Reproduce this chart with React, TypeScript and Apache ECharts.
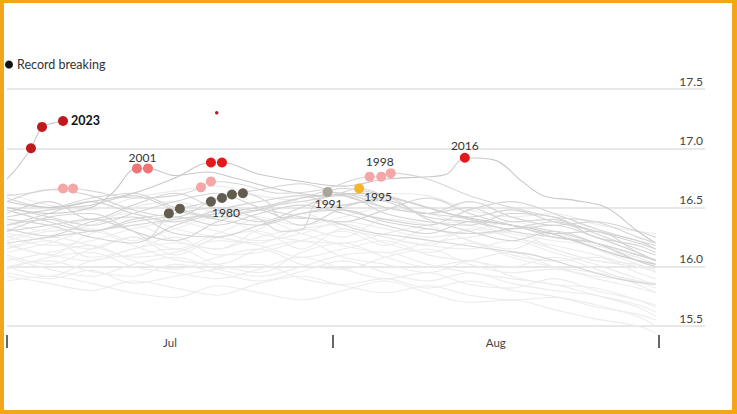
import React, { useEffect, useRef } from "react";
import * as echarts from "echarts";

// x = days since 1 July
const DAYS = [0, 4, 8, 12, 16, 20, 24, 28, 32, 36, 40, 44, 48, 52, 56, 60, 61.7];
const Y_TICKS = [15.5, 16.0, 16.5, 17.0, 17.5];
const MONTH_TICKS = [0, 31, 62];
const MONTH_LABEL_POS = [15.5, 46.5];
const MONTH_LABELS = ["Jul", "Aug"];

// background years (grey lines)
const BG_LINES: number[][] = [
  [16.45, 16.55, 16.4, 16.52, 16.62, 16.48, 16.38, 16.5, 16.62, 16.55, 16.45, 16.5, 16.38, 16.4, 16.25, 16.18, 16.12],
  [16.3, 16.42, 16.45, 16.3, 16.22, 16.38, 16.48, 16.35, 16.5, 16.58, 16.4, 16.3, 16.22, 16.3, 16.2, 16.05, 16.0],
  [16.2, 16.1, 16.28, 16.35, 16.22, 16.15, 16.32, 16.45, 16.32, 16.25, 16.18, 16.32, 16.25, 16.15, 16.05, 16.02, 15.95],
  [16.1, 16.02, 16.15, 16.25, 16.1, 16.25, 16.3, 16.15, 16.32, 16.2, 16.12, 16.2, 16.08, 16.0, 15.95, 15.88, 15.82],
  [16.0, 15.92, 16.05, 16.1, 16.15, 16.02, 15.95, 16.12, 16.2, 16.08, 16.0, 16.05, 15.92, 15.85, 15.82, 15.72, 15.68],
  [15.95, 15.9, 15.97, 15.86, 15.92, 15.98, 16.02, 15.9, 15.85, 15.9, 15.82, 15.88, 15.8, 15.75, 15.68, 15.58, 15.5],
  [16.55, 16.65, 16.6, 16.48, 16.42, 16.58, 16.65, 16.7, 16.6, 16.5, 16.45, 16.55, 16.42, 16.35, 16.38, 16.3, 16.25],
  [16.4, 16.35, 16.25, 16.2, 16.35, 16.45, 16.5, 16.58, 16.6, 16.45, 16.38, 16.35, 16.45, 16.42, 16.28, 16.15, 16.1],
  [16.25, 16.32, 16.4, 16.45, 16.32, 16.25, 16.2, 16.32, 16.25, 16.4, 16.35, 16.22, 16.15, 16.28, 16.15, 16.02, 15.98],
  [16.15, 16.22, 16.08, 16.15, 16.25, 16.1, 16.12, 16.22, 16.3, 16.18, 16.32, 16.22, 16.1, 16.05, 16.08, 15.95, 15.9],
  [16.05, 16.12, 16.18, 16.05, 15.98, 16.08, 16.15, 16.02, 15.98, 16.08, 16.15, 16.02, 15.95, 15.98, 15.9, 15.82, 15.78],
  [15.92, 15.86, 15.8, 15.88, 15.82, 15.76, 15.86, 15.92, 15.84, 15.78, 15.84, 15.76, 15.72, 15.74, 15.66, 15.6, 15.55],
  [16.35, 16.45, 16.55, 16.45, 16.38, 16.48, 16.55, 16.6, 16.48, 16.4, 16.35, 16.48, 16.55, 16.45, 16.32, 16.22, 16.18],
  [16.5, 16.42, 16.35, 16.45, 16.55, 16.62, 16.5, 16.42, 16.38, 16.48, 16.58, 16.45, 16.35, 16.28, 16.3, 16.12, 16.05],
  [16.28, 16.22, 16.15, 16.25, 16.15, 16.28, 16.4, 16.28, 16.18, 16.12, 16.2, 16.25, 16.3, 16.15, 16.05, 16.0, 15.96],
  [16.12, 16.2, 16.3, 16.18, 16.06, 16.02, 16.15, 16.22, 16.08, 16.02, 15.95, 16.05, 16.12, 16.0, 15.92, 15.88, 15.86],
  [16.0, 16.05, 15.96, 15.92, 16.02, 15.95, 15.88, 15.96, 16.05, 15.95, 15.88, 15.95, 15.86, 15.8, 15.76, 15.68, 15.62],
  [16.62, 16.52, 16.48, 16.58, 16.64, 16.68, 16.6, 16.55, 16.52, 16.62, 16.6, 16.48, 16.42, 16.45, 16.36, 16.3, 16.28],
  [16.42, 16.48, 16.52, 16.6, 16.48, 16.4, 16.35, 16.45, 16.52, 16.56, 16.42, 16.38, 16.32, 16.35, 16.25, 16.12, 16.05],
  [16.18, 16.1, 16.05, 16.15, 16.2, 16.15, 16.25, 16.32, 16.36, 16.25, 16.18, 16.15, 16.22, 16.12, 16.02, 15.9, 15.85],
  [16.08, 15.98, 15.92, 16.02, 16.08, 15.98, 15.92, 16.0, 16.1, 16.12, 16.02, 15.95, 15.9, 15.85, 15.76, 15.66, 15.58],
  [15.88, 15.92, 15.86, 15.78, 15.74, 15.84, 15.78, 15.72, 15.8, 15.88, 15.78, 15.7, 15.72, 15.64, 15.56, 15.5, 15.44],
  [16.32, 16.26, 16.38, 16.42, 16.28, 16.25, 16.35, 16.45, 16.48, 16.38, 16.32, 16.28, 16.32, 16.38, 16.3, 16.2, 16.15],
  [16.22, 16.3, 16.32, 16.22, 16.32, 16.42, 16.28, 16.22, 16.2, 16.28, 16.35, 16.38, 16.25, 16.18, 16.1, 16.0, 15.96],
  [16.58, 16.5, 16.58, 16.62, 16.5, 16.42, 16.48, 16.58, 16.66, 16.6, 16.5, 16.42, 16.48, 16.38, 16.3, 16.22, 16.15],
  [16.38, 16.3, 16.35, 16.5, 16.55, 16.45, 16.42, 16.35, 16.42, 16.5, 16.45, 16.35, 16.28, 16.22, 16.18, 16.08, 16.02],
  [16.15, 16.25, 16.18, 16.08, 16.12, 16.22, 16.18, 16.08, 16.15, 16.22, 16.1, 16.05, 16.0, 16.08, 15.98, 15.85, 15.78],
  [16.48, 16.38, 16.3, 16.38, 16.42, 16.35, 16.45, 16.52, 16.45, 16.35, 16.28, 16.38, 16.35, 16.25, 16.2, 16.1, 16.06],
  [15.98, 16.08, 16.12, 16.0, 15.95, 15.9, 15.98, 16.08, 15.98, 15.9, 15.95, 15.85, 15.82, 15.9, 15.8, 15.72, 15.66],
  [16.26, 16.18, 16.22, 16.32, 16.38, 16.3, 16.22, 16.28, 16.38, 16.32, 16.25, 16.3, 16.38, 16.28, 16.15, 16.08, 16.02],
];
const BG_DARK = [0, 1, 6, 7, 12, 13, 18, 22, 24, 27];

// highlighted years
const Y2023_DAYS = [0, 1, 2.28, 3.33, 4.3, 5.33];
const Y2023_VALS = [16.74, 16.84, 17.0, 17.18, 17.21, 17.23];
const Y2016_DAYS = [0, 4, 8, 12, 16, 19.4, 20.45, 24, 28, 32, 36, 40, 41.8, 43.55, 46.4, 49, 51, 54, 57, 60, 61.7];
const Y2016_VALS = [16.55, 16.5, 16.55, 16.62, 16.75, 16.88, 16.88, 16.78, 16.72, 16.68, 16.74, 16.76, 16.78, 16.92, 16.9, 16.72, 16.6, 16.56, 16.5, 16.3, 16.2];
const Y2001_DAYS = [0, 4, 8, 10, 12.36, 13.41, 16, 19, 22, 26, 30, 34, 38, 42, 46, 50, 54, 58, 61.7];
const Y2001_VALS = [16.5, 16.45, 16.5, 16.62, 16.83, 16.83, 16.77, 16.8, 16.74, 16.65, 16.6, 16.62, 16.55, 16.45, 16.38, 16.32, 16.22, 16.1, 16.02];
const Y1998_DAYS = [0, 2, 5.33, 6.28, 8, 12, 16, 18.45, 19.4, 22, 26, 30, 34.5, 35.6, 36.5, 40, 44, 48, 52, 56, 60, 61.7];
const Y1998_VALS = [16.6, 16.62, 16.66, 16.66, 16.64, 16.58, 16.6, 16.67, 16.72, 16.7, 16.62, 16.65, 16.76, 16.76, 16.79, 16.74, 16.6, 16.5, 16.42, 16.38, 16.25, 16.2];
const Y1995_DAYS = [0, 4, 8, 12, 16, 20, 24, 28, 31, 33.5, 36, 40, 44, 48, 52, 56, 60, 61.7];
const Y1995_VALS = [16.2, 16.25, 16.3, 16.35, 16.4, 16.45, 16.5, 16.55, 16.6, 16.66, 16.6, 16.5, 16.4, 16.35, 16.3, 16.2, 16.1, 16.05];
const Y1991_DAYS = [0, 4, 8, 12, 16, 20, 24, 26, 28, 29.2, 30.5, 33, 36, 40, 44, 48, 52, 56, 60, 61.7];
const Y1991_VALS = [16.35, 16.4, 16.3, 16.4, 16.45, 16.5, 16.4, 16.3, 16.31, 16.52, 16.63, 16.6, 16.5, 16.45, 16.4, 16.3, 16.25, 16.2, 16.05, 16.0];
const Y1980_DAYS = [0, 4, 8, 12, 13.3, 15.4, 16.45, 18, 19.4, 20.45, 21.4, 22.44, 24.7, 26, 30, 34, 38, 42, 46, 50, 54, 58, 61.7];
const Y1980_VALS = [16.3, 16.35, 16.4, 16.3, 16.24, 16.45, 16.49, 16.52, 16.55, 16.58, 16.61, 16.62, 16.55, 16.42, 16.4, 16.3, 16.25, 16.2, 16.15, 16.1, 16.0, 15.9, 15.85];

// record-breaking dots
const REC_2023 = [[2.28, 17.0], [3.33, 17.18], [5.33, 17.23]];
const REC_2016 = [[19.4, 16.88], [20.45, 16.88], [43.55, 16.92]];
const REC_2001 = [[12.36, 16.83], [13.41, 16.83]];
const REC_1998 = [[5.33, 16.66], [6.28, 16.66], [18.45, 16.67], [19.4, 16.72], [34.5, 16.76], [35.6, 16.76], [36.5, 16.79]];
const REC_1995 = [[33.5, 16.66]];
const REC_1991 = [[30.5, 16.63]];
const REC_1980 = [[15.4, 16.45], [16.45, 16.49], [19.4, 16.55], [20.45, 16.58], [21.4, 16.61], [22.44, 16.62]];
const STRAY_DOT = [[19.95, 17.3]];

const FONT = "Lato, 'Open Sans', sans-serif";

function zip(d: number[], v: number[]) {
  return d.map((x, i) => [x, v[i]]);
}

export default function App() {
  const ref = useRef<HTMLDivElement>(null);
  useEffect(() => {
    if (!ref.current) return;
    const chart = echarts.init(ref.current, undefined, { renderer: "svg" });

    const lineSeries = (data: number[][], color: string, z: number, smooth = 0.35) => ({
      type: "line",
      data,
      smooth,
      showSymbol: false,
      silent: true,
      clip: false,
      z,
      lineStyle: { color, width: 1.1 },
    });

    const bg = BG_LINES.map((vals, i) =>
      lineSeries(zip(DAYS, vals), BG_DARK.includes(i) ? "#d4d4d4" : "#ececec", BG_DARK.includes(i) ? 2 : 1)
    );
    const mid = "#c9c9c9";
    const hl = [
      lineSeries(zip(Y2023_DAYS, Y2023_VALS), mid, 3),
      lineSeries(zip(Y2016_DAYS, Y2016_VALS), mid, 3),
      lineSeries(zip(Y2001_DAYS, Y2001_VALS), mid, 3),
      lineSeries(zip(Y1998_DAYS, Y1998_VALS), "#d6d6d6", 3),
      lineSeries(zip(Y1995_DAYS, Y1995_VALS), "#d6d6d6", 3),
      lineSeries(zip(Y1991_DAYS, Y1991_VALS), "#d6d6d6", 3),
      lineSeries(zip(Y1980_DAYS, Y1980_VALS), "#d6d6d6", 3),
    ];

    const labelStyle = { show: true, fontFamily: FONT, fontSize: 12, color: "#333" };
    const dots = (
      data: number[][],
      color: string,
      labelIdx: number,
      label: any,
      size = 10
    ) => ({
      type: "scatter",
      symbolSize: size,
      z: 5,
      silent: true,
      clip: false,
      itemStyle: { color, opacity: 1 },
      data: data.map((p, i) =>
        i === labelIdx ? { value: p, label: { ...labelStyle, ...label } } : { value: p }
      ),
    });

    const scatter = [
      dots(REC_1980, "#625d4e", 3, { formatter: "1980", position: "bottom", distance: 3, offset: [4, 0] }),
      dots(REC_1991, "#aaa697", 0, { formatter: "1991", position: "bottom", distance: 0, offset: [1, 0] }),
      dots(REC_1995, "#f4b52b", 0, { formatter: "1995", position: "right", distance: 0, offset: [0, 8] }),
      dots(REC_1998, "#f5a6a6", 5, { formatter: "1998", position: "top", distance: 4, offset: [-1.5, 0] }),
      dots(REC_2001, "#f07474", 0, { formatter: "2001", position: "top", distance: 0, offset: [5.5, 0] }),
      dots(REC_2016, "#e3191c", 2, { formatter: "2016", position: "top", distance: 1 }),
      dots(REC_2023, "#c0181d", 2, {
        formatter: "2023",
        position: "right",
        distance: 3,
        fontWeight: "bold",
        color: "#111",
        fontSize: 12.5,
      }),
      dots(STRAY_DOT, "#c0181d", -1, {}, 3.5),
    ];

    chart.setOption({
      animation: false,
      backgroundColor: "#ffffff",
      grid: { left: 7, right: 32, top: 89, bottom: 88, containLabel: false },
      xAxis: {
        type: "value",
        min: 0,
        max: 66.4,
        offset: 9,
        axisLine: { show: false },
        splitLine: { show: false },
        axisTick: {
          show: true,
          customValues: MONTH_TICKS,
          length: 13,
          lineStyle: { color: "#333", width: 1.5 },
        },
        axisLabel: {
          show: true,
          customValues: MONTH_LABEL_POS,
          margin: 1,
          fontFamily: FONT,
          fontSize: 11.5,
          color: "#444",
          formatter: (v: number) => MONTH_LABELS[MONTH_LABEL_POS.indexOf(v)] ?? "",
        },
      },
      yAxis: {
        type: "value",
        position: "right",
        min: Y_TICKS[0],
        max: Y_TICKS[Y_TICKS.length - 1],
        interval: 0.5,
        axisLine: { show: false },
        axisTick: { show: false },
        splitLine: { show: true, lineStyle: { color: "#e0e0e0", width: 1.5 } },
        axisLabel: {
          inside: true,
          margin: 2,
          fontFamily: FONT,
          fontSize: 12,
          color: "#444",
          verticalAlign: "bottom",
          padding: [0, 0, 2, 0],
          formatter: (v: number) => v.toFixed(1),
        },
      },
      graphic: [
        { type: "circle", shape: { cx: 9, cy: 64.5, r: 4 }, style: { fill: "#111" } },
        {
          type: "text",
          x: 17,
          y: 64.5,
          style: {
            text: "Record breaking",
            fontFamily: FONT,
            fontSize: 12.5,
            fill: "#333",
            verticalAlign: "middle",
          },
        },
      ],
      series: [...bg, ...hl, ...scatter],
    });
    return () => chart.dispose();
  }, []);

  return (
    <div style={{ position: "fixed", left: 0, top: 0, width: 737, height: 414, background: "#fff" }}>
      <div ref={ref} style={{ position: "absolute", left: 0, top: 0, width: 737, height: 414 }} />
      <div
        style={{
          position: "absolute",
          left: 0,
          top: 0,
          width: 737,
          height: 414,
          boxSizing: "border-box",
          borderStyle: "solid",
          borderColor: "#f3a51c",
          borderWidth: "3px 5px 4px 4px",
          pointerEvents: "none",
        }}
      />
    </div>
  );
}
